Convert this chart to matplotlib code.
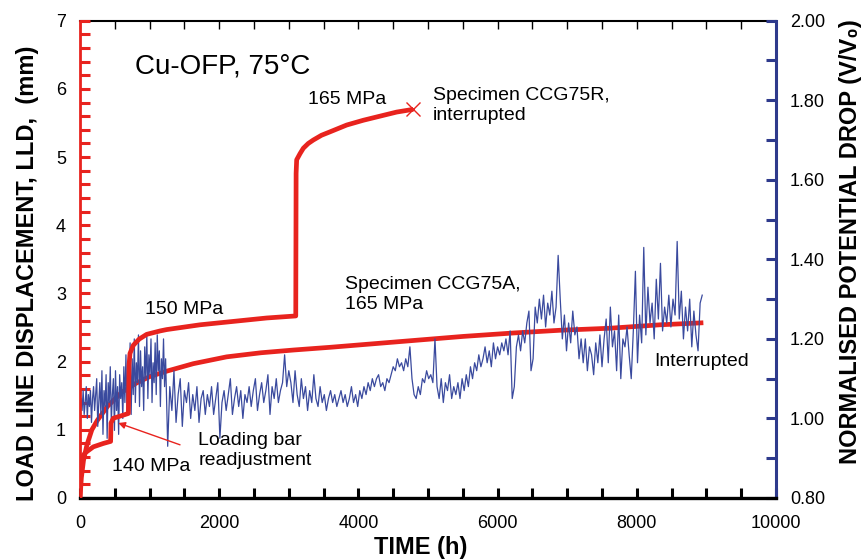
import matplotlib
matplotlib.use('Agg')
import matplotlib.pyplot as plt
import numpy as np
from matplotlib.ticker import MultipleLocator, FormatStrFormatter

plt.rcParams['font.family'] = ['Liberation Sans', 'DejaVu Sans']

# ---------------- data ----------------
# Specimen CCG75R (140 -> 150 -> 165 MPa), LLD in mm
r_time = [0, 10, 38, 72, 191, 335, 440, 445, 479, 575, 695, 700, 705, 718, 766, 850,
          958, 1150, 1245, 1724, 2203, 2682, 3100, 3105, 3113, 3161, 3209, 3280, 3352,
          3470, 3592, 3832, 4071, 4310, 4550, 4789]
r_lld = [0, 0.35, 0.61, 0.66, 0.75, 0.80, 0.83, 1.10, 1.17, 1.20, 1.24, 1.60, 1.95,
         2.12, 2.24, 2.33, 2.40, 2.45, 2.47, 2.54, 2.59, 2.64, 2.67, 4.76, 4.96,
         5.05, 5.13, 5.20, 5.25, 5.32, 5.37, 5.47, 5.54, 5.60, 5.66, 5.70]

# Specimen CCG75A (165 MPa), LLD in mm
a_time = [0, 10, 20, 50, 100, 170, 250, 400, 600, 800, 1000, 1245, 1628, 2107,
          2600, 3065, 3592, 4550, 5508, 6226, 6897, 7615, 8333, 8956]
a_lld = [0, 0.15, 0.30, 0.55, 0.78, 1.00, 1.14, 1.35, 1.55, 1.68, 1.78, 1.86, 1.97,
         2.07, 2.13, 2.17, 2.21, 2.29, 2.37, 2.42, 2.46, 2.49, 2.54, 2.57]

# Normalised potential drop (V/V0)
# early readings: every 15 h from 15 h
pd_early_start_h = 15
pd_early_step_h = 15
pd_early = [
    1.05, 1.02, 1.07, 1.01, 1.04, 1.08, 1.00, 1.06, 1.03, 1.07, 0.99, 1.05, 1.08, 1.02, 1.06, 1.10, 0.98, 1.04, 1.09, 1.01,
    1.12, 0.96, 1.07, 1.03, 1.11, 0.95, 1.09, 1.04, 1.13, 0.99, 1.06, 1.10, 0.97, 1.12, 1.02, 1.08, 0.96, 1.11, 1.05, 1.09,
    1.00, 1.13, 1.04, 1.16, 1.02, 1.12, 1.07, 1.19, 1.01, 1.15, 1.06, 1.20, 1.04, 1.14, 1.09, 1.21, 1.03, 1.17, 1.08, 1.13,
    1.02, 1.18, 1.10, 1.21, 1.05, 1.16, 1.11, 1.20, 1.04, 1.14, 1.09, 1.19, 1.06, 1.21, 1.12, 1.17, 1.03, 1.15, 1.10, 1.20, 1.08, 1.15,
]
# later readings: every 30 h from 1260 h
pd_late_start_h = 1260
pd_late_step_h = 30
pd_late = [
    0.93, 1.08, 1.02, 1.12, 0.99, 1.06, 1.10, 0.98, 1.07, 1.04, 1.09, 1.00, 1.06, 1.02, 1.08, 0.99, 1.05, 1.07, 1.01,
    1.06, 1.03, 1.08, 1.01, 1.05, 1.09, 0.95, 1.04, 1.07, 1.02, 1.06, 1.10, 1.01, 1.05, 1.08, 1.03, 1.07, 1.00, 1.06, 1.04,
    1.08, 1.03, 1.07, 1.10, 1.02, 1.06, 1.09, 1.04, 1.07, 1.11, 1.01, 1.08, 1.05, 1.10, 1.04, 1.07, 1.09, 1.16, 1.08, 1.12,
    1.09, 1.04, 1.12, 1.06, 1.03, 1.10, 1.05, 1.08, 1.02, 1.07, 1.04, 1.11, 1.05, 1.03, 1.08, 1.04, 1.06, 1.02, 1.05, 1.07,
    1.04, 1.06, 1.03, 1.05, 1.07, 1.04, 1.06, 1.03, 1.05, 1.08, 1.04, 1.06, 1.03, 1.07, 1.05, 1.08, 1.06, 1.09, 1.07, 1.10,
    1.08, 1.10, 1.11, 1.08, 1.09, 1.07, 1.10, 1.09, 1.11, 1.13, 1.12, 1.15, 1.13, 1.14, 1.12, 1.15, 1.13, 1.18, 1.10, 1.06,
    1.05, 1.08, 1.06, 1.10, 1.09, 1.12, 1.10, 1.11, 1.09, 1.20, 1.08, 1.05, 1.10, 1.04, 1.09, 1.07, 1.11, 1.05, 1.08, 1.06,
    1.09, 1.05, 1.10, 1.07, 1.11, 1.08, 1.13, 1.10, 1.14, 1.12, 1.16, 1.13, 1.15, 1.18, 1.14, 1.17, 1.13, 1.19, 1.15, 1.18,
    1.16, 1.19, 1.17, 1.20, 1.16, 1.22, 1.05, 1.08, 1.18, 1.21, 1.17, 1.22, 1.19, 1.24, 1.27, 1.12, 1.15, 1.28, 1.24, 1.30,
    1.25, 1.31, 1.23, 1.29, 1.26, 1.32, 1.24, 1.28, 1.41, 1.30, 1.20, 1.26, 1.17, 1.24, 1.19, 1.27, 1.21, 1.23, 1.15, 1.20,
    1.14, 1.20, 1.12, 1.18, 1.16, 1.11, 1.19, 1.14, 1.21, 1.13, 1.20, 1.25, 1.14, 1.28, 1.18, 1.22, 1.12, 1.26, 1.10, 1.20,
    1.18, 1.23, 1.16, 1.10, 1.22, 1.37, 1.14, 1.26, 1.19, 1.43, 1.21, 1.33, 1.24, 1.29, 1.20, 1.35, 1.25, 1.39, 1.22, 1.28,
    1.24, 1.31, 1.23, 1.30, 1.26, 1.445, 1.25, 1.32, 1.20, 1.28, 1.22, 1.30, 1.18, 1.27, 1.21, 1.17, 1.29, 1.31,
]
pd_time = np.concatenate([
    pd_early_start_h + pd_early_step_h * np.arange(len(pd_early)),
    pd_late_start_h + pd_late_step_h * np.arange(len(pd_late)),
])
pd_values = np.array(pd_early + pd_late)

RED = '#E8231E'
NAVY = '#2E3A8C'
BLUE = '#3A4A9E'

fig = plt.figure(figsize=(8.63, 5.59), dpi=100)
ax = fig.add_axes([80 / 863, 1 - 498 / 559, 696 / 863, (498 - 20.7) / 559])
ax2 = ax.twinx()

ax.set_xlim(0, 10000)
ax.set_ylim(0, 7)
ax2.set_ylim(0.8, 2.0)

# CCG75A curve (beneath the PD trace)
ax.plot(a_time, a_lld, color=RED, lw=3.4, solid_capstyle='butt', solid_joinstyle='round', zorder=3)

# potential drop
ax2.plot(pd_time, pd_values, color=BLUE, lw=0.9, zorder=2)

# CCG75R curve (above the PD trace), plotted in LLD data coordinates
ax2.plot(r_time, r_lld, color=RED, lw=3.4, solid_capstyle='butt', solid_joinstyle='round',
         zorder=3, transform=ax.transData)
ax2.plot([r_time[-1]], [r_lld[-1]], marker='x', color=RED, ms=10, mew=1.0, zorder=4,
         transform=ax.transData)

# ticks
ax.xaxis.set_major_locator(MultipleLocator(2000))
ax.xaxis.set_minor_locator(MultipleLocator(500))
ax.yaxis.set_major_locator(MultipleLocator(1))
ax.yaxis.set_minor_locator(MultipleLocator(0.2))
ax2.yaxis.set_major_locator(MultipleLocator(0.2))
ax2.yaxis.set_minor_locator(MultipleLocator(0.1))

ax.tick_params(axis='x', which='both', direction='in', top=False, bottom=True,
               length=7, width=2.2, color='black', labelsize=13, pad=12)
ax.tick_params(axis='y', which='both', direction='in', length=7, width=2.2,
               color=RED, labelsize=13, pad=10, right=False)
ax2.tick_params(axis='y', which='both', direction='in', length=7, width=2.2,
                color=NAVY, labelsize=13, pad=10, left=False)
ax2.yaxis.set_major_formatter(FormatStrFormatter('%.2f'))

# thin top ticks
secx = ax.secondary_xaxis('top')
secx.xaxis.set_major_locator(MultipleLocator(500))
secx.tick_params(axis='x', direction='in', length=6, width=1.0, labeltop=False, color='black')
secx.spines['top'].set_linewidth(1.5)

for sp in ['top', 'bottom', 'left', 'right']:
    ax.spines[sp].set_visible(False)
ax2.spines['left'].set_color(RED)
ax2.spines['left'].set_linewidth(2.0)
ax2.spines['right'].set_color(NAVY)
ax2.spines['right'].set_linewidth(2.2)
ax2.spines['bottom'].set_color('black')
ax2.spines['bottom'].set_linewidth(2.4)
ax2.spines['top'].set_visible(False)

# axis labels
ax.set_xlabel('TIME (h)', fontsize=17, fontweight='bold')
ax.xaxis.set_label_coords(0.49, -0.080)
ax.set_ylabel('LOAD LINE DISPLACEMENT, LLD,  (mm)', fontsize=17, fontweight='bold')
ax.yaxis.set_label_coords(-0.059, 0.47)
ax2.set_ylabel('NORMALISED POTENTIAL DROP (V/V\u2080)', fontsize=17, fontweight='bold')
ax2.yaxis.set_label_coords(1.091, 0.537)

# annotations
ax.text(790, 6.33, 'Cu-OFP, 75°C', fontsize=20, va='center', ha='left')
ax.text(3276, 5.84, '165 MPa', fontsize=14, va='center', ha='left')
ax.text(5067, 5.76, 'Specimen CCG75R,\ninterrupted', fontsize=14, va='center', ha='left',
        linespacing=1.22)
ax.text(934, 2.76, '150 MPa', fontsize=14, va='center', ha='left')
ax.text(3807, 2.985, 'Specimen CCG75A,\n165 MPa', fontsize=14, va='center', ha='left',
        linespacing=1.3)
ax.text(8247, 2.0, 'Interrupted', fontsize=14, va='center', ha='left')
ax.text(1700, 0.70, 'Loading bar\nreadjustment', fontsize=14, va='center', ha='left',
        linespacing=1.22)
ax.text(455, 0.46, '140 MPa', fontsize=14, va='center', ha='left')
ax2.annotate('', xy=(550, 1.10), xytext=(1437, 0.78), xycoords=ax.transData,
             textcoords=ax.transData,
             arrowprops=dict(arrowstyle='-|>', color=RED, lw=1.0, mutation_scale=10,
                             shrinkA=0, shrinkB=0))

fig.savefig('out.png', dpi=100)
